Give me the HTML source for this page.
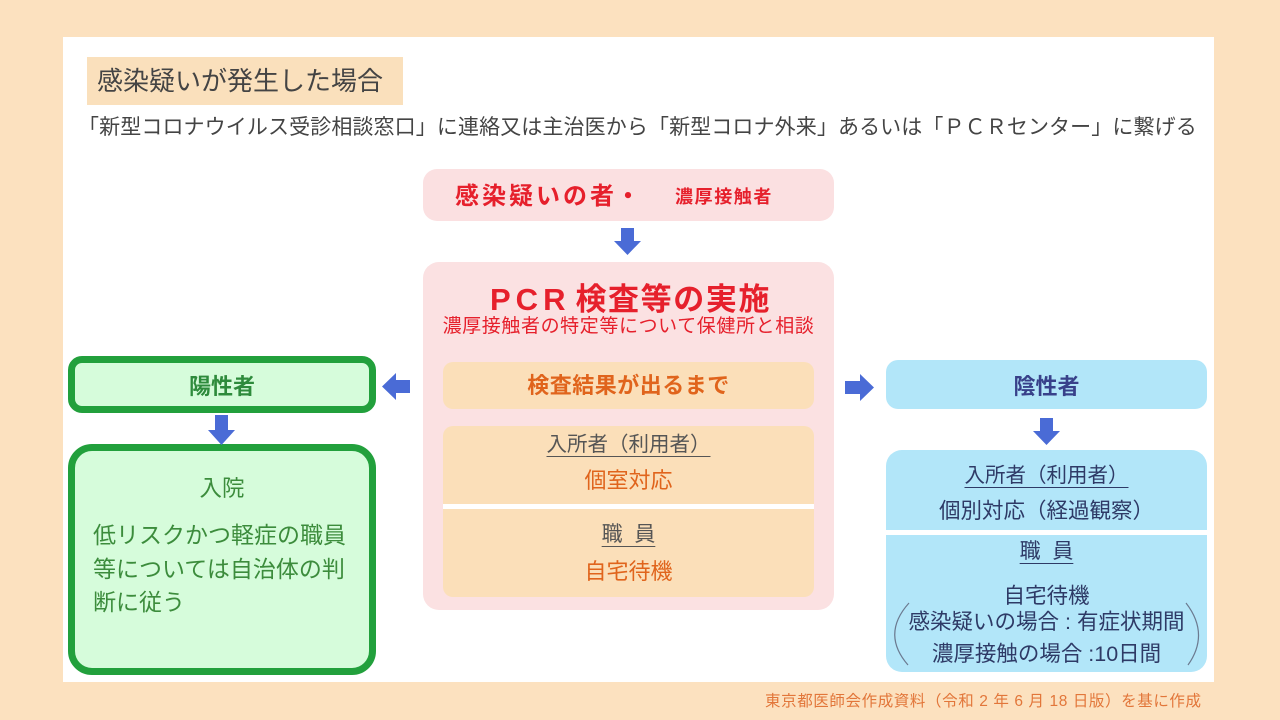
<!DOCTYPE html>
<html><head><meta charset="utf-8"><style>
*{margin:0;padding:0;box-sizing:border-box}
body{width:1280px;height:720px;background:#fce1bf;position:relative;overflow:hidden;font-family:"Liberation Sans","Noto Sans CJK JP",sans-serif}
.a{position:absolute}
.t{position:absolute;white-space:nowrap;height:30px;line-height:30px}
.c{text-align:center}
.u{text-decoration:underline;text-decoration-thickness:1px;text-underline-offset:5px}
</style></head><body>
<div class="a" style="left:63px;top:37px;width:1151px;height:645px;background:#fff"></div>

<div class="a" style="left:87px;top:57px;width:316px;height:48px;background:#fae0bc"></div>
<div class="t" style="left:97px;top:66px;font-size:26px;color:#444">感染疑いが発生した場合</div>
<div class="t" style="left:78px;top:113px;font-size:21px;color:#444;letter-spacing:0.11px">「新型コロナウイルス受診相談窓口」に連絡又は主治医から「新型コロナ外来」あるいは「ＰＣＲセンター」に繋げる</div>

<!-- top box -->
<div class="a" style="left:423px;top:169px;width:411px;height:52px;border-radius:14px;background:#fbe0e1"></div>
<div class="t" style="left:455px;top:182px;font-size:24px;font-weight:bold;color:#e6202c;letter-spacing:3px">感染疑いの者</div>
<div class="t" style="left:616px;top:182px;font-size:24px;font-weight:bold;color:#e6202c">・</div>
<div class="t" style="left:675px;top:182px;font-size:18px;font-weight:bold;color:#e6202c;letter-spacing:1.6px">濃厚接触者</div>

<!-- big pink box -->
<div class="a" style="left:423px;top:262px;width:411px;height:348px;border-radius:16px;background:#fbe1e2"></div>
<div class="t" style="left:490px;top:275px;height:50px;line-height:50px;font-size:31px;font-weight:bold;color:#e6202c"><span style="letter-spacing:5px;margin-right:5px">PCR</span><span style="letter-spacing:1.6px">検査等の実施</span></div>
<div class="t c" style="left:423px;width:411px;top:312px;font-size:19px;color:#e6202c;letter-spacing:0.6px">濃厚接触者の特定等について保健所と相談</div>

<div class="a" style="left:443px;top:362px;width:371px;height:47px;border-radius:10px;background:#fbdfb9"></div>
<div class="t c" style="left:443px;width:371px;top:371px;font-size:22px;font-weight:bold;color:#e0641c;letter-spacing:0.5px">検査結果が出るまで</div>

<div class="a" style="left:443px;top:426px;width:371px;height:171px;border-radius:10px;background:#fbdfb9"></div>
<div class="a" style="left:443px;top:504px;width:371px;height:5px;background:#fff"></div>
<div class="t c" style="left:443px;width:371px;top:430px;font-size:20.5px;color:#555"><span class="u">入所者（利用者）</span></div>
<div class="t c" style="left:443px;width:371px;top:466px;font-size:22px;color:#e0641c">個室対応</div>
<div class="t c" style="left:443px;width:371px;top:520px;font-size:21px;color:#555"><span class="u">職&nbsp;&nbsp;員</span></div>
<div class="t c" style="left:443px;width:371px;top:557px;font-size:22px;color:#e0641c">自宅待機</div>

<!-- green -->
<div class="a" style="left:68px;top:356px;width:308px;height:57px;border:7px solid #22a03c;border-radius:14px;background:#d6fcdb"></div>
<div class="t c" style="left:68px;width:308px;top:372px;font-size:22px;font-weight:bold;color:#2e8b3c">陽性者</div>
<div class="a" style="left:68px;top:444px;width:308px;height:231px;border:7px solid #22a03c;border-radius:24px;background:#d6fcdb"></div>
<div class="t c" style="left:68px;width:308px;top:474px;font-size:22.5px;color:#3c8c3c">入院</div>
<div class="t" style="left:93px;top:520px;font-size:23px;color:#3c8c3c">低リスクかつ軽症の職員</div>
<div class="t" style="left:93px;top:554px;font-size:23px;color:#3c8c3c">等については自治体の判</div>
<div class="t" style="left:93px;top:587px;font-size:23px;color:#3c8c3c">断に従う</div>

<!-- blue -->
<div class="a" style="left:886px;top:360px;width:321px;height:49px;border-radius:12px;background:#b2e6f9"></div>
<div class="t c" style="left:886px;width:321px;top:372px;font-size:22px;font-weight:bold;color:#38418a">陰性者</div>
<div class="a" style="left:886px;top:450px;width:321px;height:222px;border-radius:16px;background:#b2e6f9"></div>
<div class="a" style="left:886px;top:530px;width:321px;height:5px;background:#fff"></div>
<div class="t c" style="left:886px;width:321px;top:461px;font-size:20.5px;color:#2e3a66"><span class="u">入所者（利用者）</span></div>
<div class="t c" style="left:886px;width:321px;top:496px;font-size:21.5px;color:#2e3a66">個別対応（経過観察）</div>
<div class="t c" style="left:886px;width:321px;top:537px;font-size:21px;color:#2e3a66"><span class="u">職&nbsp;&nbsp;員</span></div>
<div class="t c" style="left:886px;width:321px;top:581px;font-size:21.5px;color:#2e3a66">自宅待機</div>
<div class="t c" style="left:886px;width:321px;top:607px;font-size:21.5px;color:#2e3a66">感染疑いの場合 : 有症状期間</div>
<div class="t c" style="left:886px;width:321px;top:639px;font-size:21.5px;color:#2e3a66">濃厚接触の場合 :10日間</div>

<!-- footer -->
<div class="t" style="left:765px;top:687px;font-size:15.5px;color:#e2763a;letter-spacing:0.6px">東京都医師会作成資料（令和 2 年 6 月 18 日版）を基に作成</div>

<svg class="a" style="left:0;top:0" width="1280" height="720" viewBox="0 0 1280 720">
  <g fill="#4a6bd6">
    <polygon points="621,228 634,228 634,241 641,241 627.5,255 614,241 621,241"/>
    <polygon points="215,415 228,415 228,430 235,430 221.5,445 208,430 215,430"/>
    <polygon points="1040,418 1053,418 1053,431 1060,431 1046.5,445 1033,431 1040,431"/>
    <polygon points="410,380 410,393 396,393 396,400 382,386.5 396,373 396,380"/>
    <polygon points="845,381 845,394 860,394 860,401 874,387.5 860,374 860,381"/>
  </g>
  <g fill="none" stroke="#6b7a90" stroke-width="1.2">
    <path d="M909 603 Q881 634 908 665"/>
    <path d="M1186 603 Q1210 634 1188 665"/>
  </g>
</svg>
</body></html>
